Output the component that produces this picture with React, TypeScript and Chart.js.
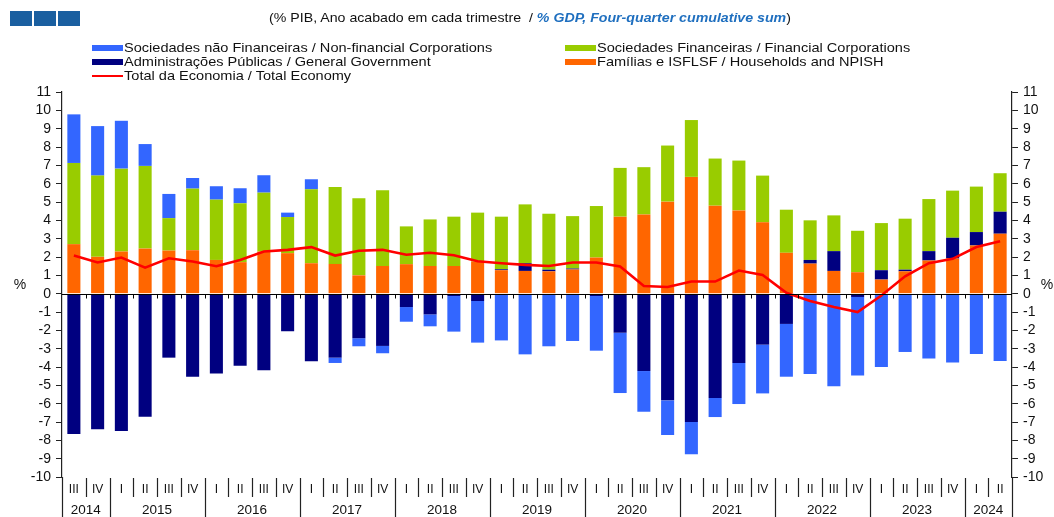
import React, { useEffect, useRef } from 'react';
import { Chart, registerables } from 'chart.js';

Chart.register(...registerables);

const quarterLabels = [
  'III', 'IV',
  'I', 'II', 'III', 'IV',
  'I', 'II', 'III', 'IV',
  'I', 'II', 'III', 'IV',
  'I', 'II', 'III', 'IV',
  'I', 'II', 'III', 'IV',
  'I', 'II', 'III', 'IV',
  'I', 'II', 'III', 'IV',
  'I', 'II', 'III', 'IV',
  'I', 'II', 'III', 'IV',
  'I', 'II',
];

const yearLabels = ['2014', '2015', '2016', '2017', '2018', '2019', '2020', '2021', '2022', '2023', '2024'];

const households = [2.70, 2.01, 2.30, 2.46, 2.35, 2.37, 1.84, 1.72, 2.30, 2.21, 1.66, 1.62, 1.00, 1.51, 1.61, 1.51, 1.51, 1.75, 1.28, 1.24, 1.22, 1.32, 1.97, 4.20, 4.32, 5.02, 6.37, 4.80, 4.54, 3.89, 2.23, 1.64, 1.24, 1.17, 0.77, 1.22, 1.81, 1.92, 2.63, 3.27];

const government = [-7.65, -7.40, -7.49, -6.71, -3.49, -4.53, -4.35, -3.93, -4.18, -2.05, -3.69, -3.49, -2.43, -2.85, -0.73, -1.13, -0.13, -0.40, 0.05, 0.42, 0.09, 0.05, -0.13, -2.13, -4.22, -5.82, -7.00, -5.69, -3.78, -2.78, -1.65, 0.20, 1.08, -0.18, 0.51, 0.09, 0.51, 1.13, 0.73, 1.20];

const financial = [4.43, 4.43, 4.52, 4.51, 1.77, 3.36, 3.29, 3.21, 3.21, 1.97, 4.03, 4.20, 4.20, 4.13, 2.06, 2.54, 2.69, 2.67, 2.87, 3.21, 3.05, 2.86, 2.81, 2.66, 2.58, 3.06, 3.10, 2.57, 2.72, 2.55, 2.35, 2.16, 1.95, 2.26, 2.57, 2.78, 2.84, 2.57, 2.48, 2.10];

const nonFinancial = [2.65, 2.70, 2.61, 1.19, 1.32, 0.58, 0.73, 0.82, 0.95, 0.24, 0.55, -0.29, -0.44, -0.40, -0.80, -0.65, -1.94, -2.27, -2.55, -3.31, -2.87, -2.58, -2.98, -3.29, -2.22, -1.89, -1.76, -1.04, -2.24, -2.66, -2.88, -4.38, -5.05, -4.29, -4.00, -3.18, -3.53, -3.75, -3.29, -3.67];

const totalEconomy = [2.08, 1.70, 1.97, 1.42, 1.93, 1.75, 1.50, 1.84, 2.30, 2.39, 2.54, 2.08, 2.34, 2.39, 2.12, 2.23, 2.10, 1.77, 1.66, 1.57, 1.51, 1.70, 1.70, 1.48, 0.42, 0.36, 0.66, 0.66, 1.26, 1.02, 0.05, -0.40, -0.73, -1.00, -0.10, 0.95, 1.66, 1.90, 2.54, 2.86];

const seriesNames = [
  'Sociedades não Financeiras / Non-financial Corporations',
  'Sociedades Financeiras / Financial Corporations',
  'Administrações Públicas / General Government',
  'Famílias e ISFLSF / Households and NPISH',
  'Total da Economia / Total Economy',
];

const COLORS = {
  nonFin: '#3366FF',
  fin: '#99CC00',
  gov: '#000080',
  hh: '#FF6600',
  total: '#FF0000',
};

const FONT = '"Liberation Sans", Arial, Helvetica, sans-serif';

const axisPlugin = {
  id: 'customAxis',
  afterDatasetDraw(chart: any, args: any) {
    if (args.index !== 0) return;
    const { ctx, chartArea, scales } = chart;
    const y0 = Math.round(scales.y.getPixelForValue(0)) + 0.5;
    const n = quarterLabels.length;
    const w = (chartArea.right - chartArea.left) / n;
    ctx.save();
    ctx.strokeStyle = '#000';
    ctx.lineWidth = 1;
    ctx.beginPath();
    ctx.moveTo(chartArea.left, y0);
    ctx.lineTo(chartArea.right, y0);
    for (let i = 1; i < n; i++) {
      const x = Math.round(chartArea.left + i * w) + 0.5;
      ctx.moveTo(x, y0);
      ctx.lineTo(x, y0 + 4);
    }
    ctx.stroke();
    ctx.restore();
  },
  afterDraw(chart: any) {
    const { ctx, chartArea } = chart;
    const n = quarterLabels.length;
    const w = (chartArea.right - chartArea.left) / n;
    const top = chartArea.bottom + 1;
    const bottom = 517;
    ctx.save();
    ctx.strokeStyle = '#222';
    ctx.lineWidth = 1.2;
    ctx.fillStyle = '#111';
    ctx.textAlign = 'center';
    ctx.textBaseline = 'middle';
    ctx.beginPath();
    ctx.moveTo(Math.round(chartArea.left) + 0.5, chartArea.bottom);
    ctx.lineTo(Math.round(chartArea.left) + 0.5, bottom);
    ctx.moveTo(Math.round(chartArea.right) + 0.5, chartArea.bottom);
    ctx.lineTo(Math.round(chartArea.right) + 0.5, bottom);
    ctx.stroke();
    ctx.font = `12px ${FONT}`;
    const yearStarts: number[] = [0];
    for (let i = 0; i < n; i++) {
      const cx = chartArea.left + (i + 0.5) * w;
      ctx.fillText(quarterLabels[i], cx, top + 12);
      if (i > 0) {
        const x = Math.round(chartArea.left + i * w) + 0.5;
        const isYear = quarterLabels[i] === 'I';
        if (isYear) yearStarts.push(i);
        ctx.beginPath();
        ctx.moveTo(x, top);
        ctx.lineTo(x, isYear ? bottom : top + 19);
        ctx.stroke();
      }
    }
    yearStarts.push(n);
    ctx.font = `13.5px ${FONT}`;
    for (let k = 0; k < yearLabels.length; k++) {
      const a = yearStarts[k];
      const b = yearStarts[k + 1];
      const cx = chartArea.left + ((a + b) / 2) * w;
      ctx.fillText(yearLabels[k], cx, top + 32);
    }
    ctx.font = `14px ${FONT}`;
    ctx.fillText('%', 20, 285);
    ctx.fillText('%', 1047, 285);
    ctx.restore();
  },
};

export default function App() {
  const canvasRef = useRef<HTMLCanvasElement | null>(null);

  useEffect(() => {
    if (!canvasRef.current) return;
    const tickFont = { family: FONT, size: 14 };
    const chart = new Chart(canvasRef.current, {
      type: 'bar',
      data: {
        labels: quarterLabels.map((q, i) => `${q}-${i}`),
        datasets: [
          {
            type: 'line',
            label: seriesNames[4],
            data: totalEconomy,
            borderColor: COLORS.total,
            backgroundColor: COLORS.total,
            borderWidth: 2.6,
            pointRadius: 0,
            tension: 0,
            stack: 'total',
            order: 0,
          } as any,
          { label: seriesNames[3], data: households, backgroundColor: COLORS.hh, stack: 'bars', order: 1 },
          { label: seriesNames[2], data: government, backgroundColor: COLORS.gov, stack: 'bars', order: 1 },
          { label: seriesNames[1], data: financial, backgroundColor: COLORS.fin, stack: 'bars', order: 1 },
          { label: seriesNames[0], data: nonFinancial, backgroundColor: COLORS.nonFin, stack: 'bars', order: 1 },
        ],
      },
      options: {
        responsive: false,
        devicePixelRatio: 1,
        animation: false,
        datasets: {
          bar: { barPercentage: 0.55, categoryPercentage: 1.0 },
        },
        layout: { padding: { top: 92, bottom: 40, left: 0, right: 0 } },
        plugins: {
          legend: { display: false },
          tooltip: { enabled: false },
          title: { display: false },
        },
        scales: {
          x: { display: false, stacked: true },
          y: {
            position: 'left',
            stacked: true,
            min: -10,
            max: 11,
            ticks: { stepSize: 1, font: tickFont, color: '#111', padding: 5, autoSkip: false },
            grid: { drawOnChartArea: false, drawTicks: true, tickLength: 6, tickColor: '#222' },
            border: { display: true, color: '#222', width: 1.2 },
            afterFit: (s: any) => { s.width = 62; },
          },
          y2: {
            position: 'right',
            min: -10,
            max: 11,
            ticks: { stepSize: 1, font: tickFont, color: '#111', padding: 5, autoSkip: false },
            grid: { drawOnChartArea: false, drawTicks: true, tickLength: 6, tickColor: '#222' },
            border: { display: true, color: '#222', width: 1.2 },
            afterFit: (s: any) => { s.width = 42; },
          },
        },
      },
      plugins: [axisPlugin],
    } as any);
    return () => chart.destroy();
  }, []);

  const legendItems = [
    { x: 92, y: 48, color: COLORS.nonFin, text: seriesNames[0], line: false },
    { x: 565, y: 48, color: COLORS.fin, text: seriesNames[1], line: false },
    { x: 92, y: 62, color: COLORS.gov, text: seriesNames[2], line: false },
    { x: 565, y: 62, color: COLORS.hh, text: seriesNames[3], line: false },
    { x: 92, y: 76, color: COLORS.total, text: seriesNames[4], line: true },
  ];

  return (
    <div style={{ position: 'absolute', left: 0, top: 0, width: 1054, height: 517, background: '#fff', overflow: 'hidden', fontFamily: FONT }}>
      <canvas ref={canvasRef} width={1054} height={517} style={{ display: 'block', position: 'absolute', left: 0, top: 0 }} />
      {[10, 34, 58].map((x) => (
        <div key={x} style={{ position: 'absolute', left: x, top: 11, width: 22, height: 15, background: '#1A5FA0' }} />
      ))}
      <div style={{ position: 'absolute', left: 0, top: 10, width: 1060, textAlign: 'center', fontSize: 13, lineHeight: '16px', color: '#111', whiteSpace: 'pre', transform: 'scaleX(1.09)', transformOrigin: '530px 0' }}>
        {'(% PIB, Ano acabado em cada trimestre  / '}
        <span style={{ color: '#1F6FBF', fontStyle: 'italic', fontWeight: 'bold' }}>% GDP, Four-quarter cumulative sum</span>
        {')'}
      </div>
      {legendItems.map((it, i) => (
        <React.Fragment key={i}>
          <div
            style={{
              position: 'absolute',
              left: it.x,
              top: it.line ? it.y - 1 : it.y - 3,
              width: 31,
              height: it.line ? 2 : 6,
              background: it.color,
            }}
          />
          <div style={{ position: 'absolute', left: it.x + 32, top: it.y - 8, fontSize: 13, lineHeight: '16px', color: '#111', whiteSpace: 'nowrap', transform: 'scaleX(1.12)', transformOrigin: '0 0' }}>
            {it.text}
          </div>
        </React.Fragment>
      ))}
    </div>
  );
}
